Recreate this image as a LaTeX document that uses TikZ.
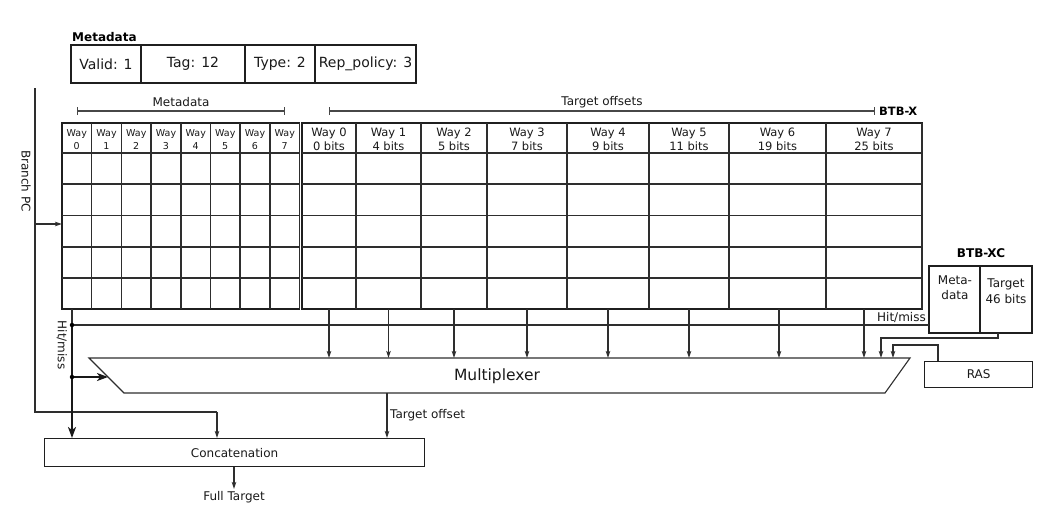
\documentclass[tikz,border=0pt]{standalone}
\usepackage{fontspec}
\setmainfont{DejaVu Sans}
\usetikzlibrary{arrows.meta,calc}
\begin{document}
\begin{tikzpicture}[x=1pt,y=-1pt,
  ln/.style={draw=black!82,line width=1.1pt},
  arr/.style={ln,-{Stealth[length=7pt,width=4.5pt,inset=1.5pt]}},
  tarr/.style={draw=black!90,line width=1.9pt,-{Stealth[length=11pt,width=8pt,inset=3pt]}},
  brk/.style={draw=black!72,line width=1.1pt,{Bar[width=8pt]}-{Bar[width=8pt]}},
  t12/.style={font=\fontsize{12}{14}\selectfont,text=black!90,inner sep=0pt},
  tb/.style={font=\bfseries\fontsize{12}{14}\selectfont,text=black,inner sep=0pt},
  cell/.style={draw=black!88,line width=1.3pt,anchor=north west,inner sep=0pt,outer sep=0pt,
    minimum height=38pt,font=\fontsize{14}{16}\selectfont,text=black!90},
  dot/.style={fill=black,circle,inner sep=0pt,minimum size=4.5pt}]
\useasboundingbox (0,0) rectangle (1052,507);

% ---------- metadata format box ----------
\node[tb,anchor=west] (mdtitle) at (72,37) {Metadata};
\node[cell,minimum width=70pt] (valid) at (71,45) {Valid: 1};
\node[cell,minimum width=104pt] (tag) at (141,45) {Tag: 12};
\node[cell,minimum width=70pt] (type) at (245,45) {Type: 2};
\node[cell,minimum width=101pt] (rep) at (315,45) {Rep\_policy: 3};

% ---------- brackets ----------
\coordinate (bm0) at (77,111);
\coordinate (bm1) at (285,111);
\draw[brk] (bm0) -- (bm1);
\node[t12] (lmeta) at (181,102) {Metadata};
\coordinate (bt0) at (329,111);
\coordinate (bt1) at (875,111);
\draw[brk] (bt0) -- (bt1);
\node[t12] (ltgt) at (602,102) {Target offsets};
\node[tb,anchor=west,font=\bfseries\fontsize{11.5}{14}\selectfont] (btbx) at (879,111) {BTB-X};

% ---------- BTB-X table ----------
\draw[ln,draw=black!88,line width=1.2pt] (62,123) rectangle (299.5,309);
\draw[ln,draw=black!88,line width=1.2pt] (302,123) rectangle (922,309);
\foreach \y in {153,184,215.5,247,278}{
  \draw[ln] (62,\y) -- (299.5,\y);
  \draw[ln] (302,\y) -- (922,\y);
}
\foreach \i/\a/\b in {0/62/91.5,1/91.5/121.5,2/121.5/151,3/151/181,4/181/210.5,5/210.5/240,6/240/270,7/270/299.5}{
  \node[font=\fontsize{9.5}{12.5}\selectfont,text=black!90,align=center,inner sep=0pt] (mw\i) at ({(\a+\b)/2},139.5) {Way\\\i};
  \draw[ln] (\b,123) -- (\b,309);
}
\foreach \i/\a/\b/\n in {0/302/356/0,1/356/421/4,2/421/487/5,3/487/567/7,4/567/649/9,5/649/729/11,6/729/826/19,7/826/922/25}{
  \node[font=\fontsize{11.5}{14}\selectfont,text=black!90,align=center,inner sep=0pt] (tw\i) at ({(\a+\b)/2},139) {Way \i\\\n{} bits};
  \draw[ln] (\b,123) -- (\b,309);
}

% ---------- Branch PC ----------
\coordinate (bpctop) at (35,88);
\coordinate (bpcj) at (35,224);
\coordinate (tblin) at (62,224);
\coordinate (bpcbot) at (35,412);
\coordinate (bpcturn) at (217,412);
\draw[arr] (bpcj) -- (tblin);
\node[t12,rotate=-90] (lbpc) at (26,181) {Branch PC};

% ---------- Multiplexer ----------
\coordinate (muxTL) at (89,358);
\coordinate (muxTR) at (910,358);
\coordinate (muxBR) at (885,393);
\coordinate (muxBL) at (124,393);
\draw[ln] (muxTL) -- (muxTR) -- (muxBR) -- (muxBL) -- cycle;
\node[font=\fontsize{15.5}{18}\selectfont,text=black!90,inner sep=0pt] (mux) at (497,376) {Multiplexer};
\coordinate (muxin) at (108,377);
\coordinate (muxout) at (387,393);

% ---------- Concatenation ----------
\node[draw=black!88,line width=1.2pt,anchor=north west,minimum width=380pt,minimum height=28pt,
  inner sep=0pt,font=\fontsize{12}{14}\selectfont,text=black!90] (cat) at (44,438) {Concatenation};
\draw[ln] (bpctop) -- (bpcbot) -- (bpcturn);
\draw[arr] (bpcturn) -- (bpcturn |- cat.north);
\draw[arr] (muxout) -- (muxout |- cat.north);
\node[t12,anchor=west] (ltoff) at (390,415) {Target offset};
\coordinate (ftend) at (234,489);
\draw[arr] (cat.south -| ftend) -- (ftend);
\node[t12] (lfull) at (234,497) {Full Target};

% ---------- column arrows ----------
\foreach \i/\x in {0/329,1/388.5,2/454,3/527,4/608,5/689,6/779,7/864}{
  \coordinate (ts\i) at (\x,309);
  \draw[arr] (ts\i) -- (ts\i |- muxTL);
}

% ---------- BTB-XC ----------
\node[tb] (btbxc) at (981,253) {BTB-XC};
\node[draw=black!88,line width=1.2pt,anchor=north west,minimum width=51pt,minimum height=67pt,
  inner sep=0pt,outer sep=0pt] (xcm) at (929,266) {};
\node[draw=black!88,line width=1.2pt,anchor=north west,minimum width=52pt,minimum height=67pt,
  inner sep=0pt,outer sep=0pt] (xct) at (980,266) {};
\node[font=\fontsize{12}{15}\selectfont,text=black!90,align=center,inner sep=0pt] (xcmt) at (955,288) {Meta-\\data};
\node[font=\fontsize{12}{15.5}\selectfont,text=black!90,align=center,inner sep=0pt] (xctt) at (1006,291) {Target\\46 bits};

% ---------- RAS ----------
\node[draw=black!88,line width=1.2pt,anchor=north west,minimum width=108pt,minimum height=26pt,
  inner sep=0pt,font=\fontsize{12}{14}\selectfont,text=black!90] (ras) at (924,361) {RAS};

\coordinate (xcout) at (998,333);
\coordinate (xcb1) at (998,338);
\coordinate (xcb2) at (881,338);
\draw[arr] (xcout) -- (xcb1) -- (xcb2) -- (xcb2 |- muxTL);
\coordinate (rasout) at (938,361);
\coordinate (rasb1) at (938,345);
\coordinate (rasb2) at (893,345);
\draw[arr] (rasout) -- (rasb1) -- (rasb2) -- (rasb2 |- muxTL);

% ---------- Hit/miss ----------
\coordinate (hmtop) at (72,309);
\coordinate (hmj1) at (72,325);
\coordinate (hmj2) at (72,377);
\draw[ln] (hmtop) -- (hmj1);
\draw[ln] (hmj1) -- (hmj1 -| xcm.west);
\draw[tarr] (hmj1) -- (hmj1 |- cat.north);
\draw[tarr] (hmj2) -- (muxin);
\node[dot] (d1) at (hmj1) {};
\node[dot] (d2) at (hmj2) {};
\node[t12,rotate=-90] (lhm1) at (62,345) {Hit/miss};
\node[t12,anchor=east] (lhm2) at (926,317) {Hit/miss};
\end{tikzpicture}
\end{document}
